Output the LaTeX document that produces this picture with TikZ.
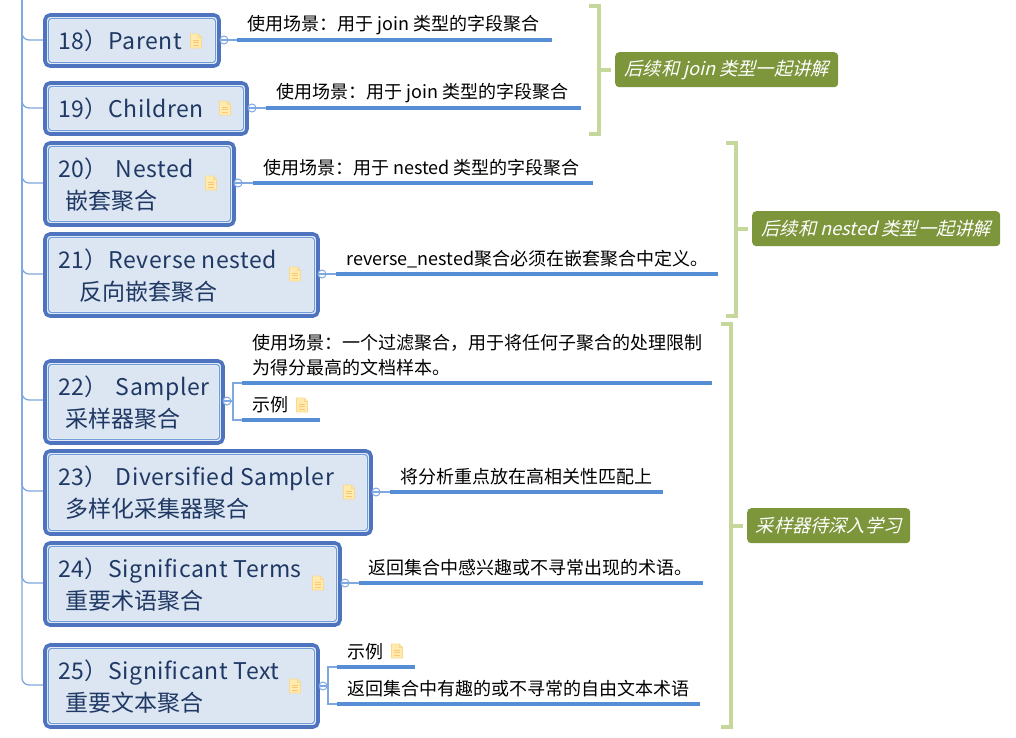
\documentclass[tikz,border=0pt]{standalone}
\usepackage{fontspec}
\setmainfont{Noto Sans CJK SC}
\newfontfamily\slantfont[FakeSlant=0.25]{Noto Sans CJK SC}
\definecolor{topicline}{HTML}{4F74BF}
\definecolor{topicinner}{HTML}{6F9BD8}
\definecolor{topicfill}{HTML}{DCE6F2}
\definecolor{topictext}{HTML}{1F3864}
\definecolor{underl}{HTML}{558ED5}
\definecolor{branchc}{HTML}{7FA8E0}
\definecolor{brk}{HTML}{C5D79B}
\definecolor{tagfill}{HTML}{7D963C}
\definecolor{notefill}{HTML}{FFEBB0}
\definecolor{noteline}{HTML}{FBD98C}
\tikzset{x=1pt,y=-1pt,
 topicbox/.style={draw=topicline,line width=3.6pt,fill=topicfill,rounded corners=5pt,minimum width=#1,inner sep=0pt,outer sep=0pt,anchor=north west},
 topictxt/.style={anchor=west,align=left,inner sep=0pt,text=topictext,font=\fontsize{23}{32}\selectfont},
 inner/.style={draw=white,line width=2.2pt,rounded corners=3pt,postaction={draw=topicinner,line width=1.2pt}},
 lab/.style={anchor=west,align=left,inner sep=0pt,text=black,font=\fontsize{18}{25}\selectfont},
 uline/.style={draw=underl,line width=3.2pt},
 branch/.style={draw=branchc,line width=1.3pt},
 fork/.style={draw=branchc,line width=1.5pt},
 trunk/.style={draw=branchc,line width=1.3pt,rounded corners=7pt},
 knob/.style={circle,draw=branchc,line width=1pt,fill=white,minimum size=8pt,inner sep=0pt},
 bracket/.style={draw=brk,line width=4pt},
 tag/.style={fill=tagfill,rounded corners=4pt,inner sep=0pt,text=white,font=\fontsize{18.2}{22}\selectfont\slantfont,anchor=north west},
 notepic/.pic={
  \fill[notefill,draw=noteline,line width=.8pt] (-5.5,-7)--(2,-7)--(5.5,-3.5)--(5.5,7)--(-5.5,7)--cycle;
  \draw[noteline!80!orange,line width=.9pt] (-3,-1)--(3,-1) (-3,1.5)--(3,1.5) (-3,4)--(3,4);
  \draw[noteline,line width=.7pt] (2,-7)--(2,-3.5)--(5.5,-3.5);
 }
}
% name, x1, y1, x2, y2, text
\newcommand{\topicnode}[6]{%
 \node[topicbox=#4pt-#2pt,minimum height=#5pt-#3pt] (#1) at (#2,#3) {};
 \draw[inner] ([xshift=3.5pt,yshift=-3.5pt]#1.north west) rectangle ([xshift=-3.5pt,yshift=3.5pt]#1.south east);
 \node[topictxt] (#1txt) at (58,{(#3+#5)/2+0.5}) {#6};
}
\newcommand{\spaced}[1]{\addfontfeature{LetterSpace=2.5}#1}
\begin{document}
\begin{tikzpicture}
\useasboundingbox (0,0) rectangle (1016,737);
\fill[white] (0,0) rectangle (1016,737);
\coordinate (trunktop) at (22,0);
% trunk
\foreach \t/\y in {t18/40,t19/108,t20/183,t21/274,t22/400,t23/491,t24/583,t25/685}
 \coordinate (\t in) at (44,\y);
\foreach \t in {t18,t19,t20,t21,t22,t23,t24,t25}
 \draw[trunk] (trunktop) |- (\t in);
% topics
\topicnode{t18}{45}{15}{219}{66}{\spaced{18）Parent}}
\topicnode{t19}{45}{83}{247}{134}{\spaced{19）Children}}
\topicnode{t20}{45}{143}{234}{225}{\spaced{20）\hspace*{8pt}Nested}\\\hspace*{7.5pt}嵌套聚合}
\topicnode{t21}{45}{234}{318}{316}{\spaced{21）Reverse nested}\\\hspace*{21.5pt}反向嵌套聚合}
\topicnode{t22}{45}{361}{223}{443}{\spaced{22）\hspace*{8pt}Sampler}\\\hspace*{7.5pt}采样器聚合}
\topicnode{t23}{45}{451}{371}{534}{\spaced{23）\hspace*{8pt}Diversified Sampler}\\\hspace*{7.5pt}多样化采集器聚合}
\topicnode{t24}{45}{543}{340}{625}{\spaced{24）Significant Terms}\\\hspace*{7.5pt}重要术语聚合}
\topicnode{t25}{45}{645}{318}{727}{\spaced{25）Significant Text}\\\hspace*{7.5pt}重要文本聚合}
% knobs
\node[knob] (k18) at (224,40) {};
\node[knob] (k19) at (252,108) {};
\node[knob] (k20) at (238,183) {};
\node[knob] (k21) at (322,274) {};
\node[knob] (k22) at (227,401) {};
\node[knob] (k23) at (376,492) {};
\node[knob] (k24) at (345,583) {};
\node[knob] (k25) at (323,686) {};
% underline ends
\coordinate (a18) at (237,40);  \coordinate (b18) at (552,40);
\coordinate (a19) at (266,108); \coordinate (b19) at (581,108);
\coordinate (a20) at (253,183); \coordinate (b20) at (593,183);
\coordinate (a21) at (336,274); \coordinate (b21) at (718,274);
\coordinate (a22) at (242,383); \coordinate (b22) at (712,383);
\coordinate (a22e) at (242,420); \coordinate (b22e) at (320,420);
\coordinate (a23) at (390,492); \coordinate (b23) at (663,492);
\coordinate (a24) at (359,583); \coordinate (b24) at (703,583);
\coordinate (a25) at (337,667); \coordinate (b25) at (415,667);
\coordinate (a25e) at (337,704); \coordinate (b25e) at (700,704);
\coordinate (f22) at (233,401); \coordinate (f25) at (328,686);
\foreach \n in {18,19,20,21,23,24}{
 \draw[branch] (k\n.west) -- (a\n);
 \draw[uline] (a\n) -- (b\n);
}
\draw[fork] (k22.west) -- (f22);
\draw[fork] (a22) -| (f22) |- (a22e);
\draw[uline] (a22) -- (b22);
\draw[uline] (a22e) -- (b22e);
\draw[fork] (k25.west) -- (f25);
\draw[fork] (a25) -| (f25) |- (a25e);
\draw[uline] (a25) -- (b25);
\draw[uline] (a25e) -- (b25e);
% labels
\node[lab] (l18) at (247,25) {使用场景：用于 join 类型的字段聚合};
\node[lab] (l19) at (276,93) {使用场景：用于 join 类型的字段聚合};
\node[lab] (l20) at (263,168) {使用场景：用于 nested 类型的字段聚合};
\node[lab] (l21) at (346,259) {reverse\_nested聚合必须在嵌套聚合中定义。};
\node[lab] (l22) at (252,355) {使用场景：一个过滤聚合，用于将任何子聚合的处理限制\\为得分最高的文档样本。};
\node[lab] (l22e) at (252,405) {示例};
\node[lab] (l23) at (400,477) {将分析重点放在高相关性匹配上};
\node[lab] (l24) at (368,568) {返回集合中感兴趣或不寻常出现的术语。};
\node[lab] (l25) at (347,652) {示例};
\node[lab] (l25e) at (347,689) {返回集合中有趣的或不寻常的自由文本术语};
% note icons
\pic at (196,41) {notepic};
\pic at (225,108) {notepic};
\pic at (211,183) {notepic};
\pic at (295,274) {notepic};
\pic at (302,405) {notepic};
\pic at (349,492) {notepic};
\pic at (318,583) {notepic};
\pic at (295,686) {notepic};
\pic at (397,651) {notepic};
% tags
\node[tag,minimum width=223pt,minimum height=35pt] (g1) at (615,52) {后续和 join 类型一起讲解};
\node[tag,minimum width=248pt,minimum height=35pt] (g2) at (752,211) {后续和 nested 类型一起讲解};
\node[tag,minimum width=163pt,minimum height=35pt] (g3) at (747,508) {采样器待深入学习};
% brackets
\coordinate (s1a) at (589,6);   \coordinate (s1b) at (599,6);
\coordinate (s1c) at (599,134); \coordinate (s1d) at (589,134);
\coordinate (s2a) at (726,143); \coordinate (s2b) at (736,143);
\coordinate (s2c) at (736,316); \coordinate (s2d) at (726,316);
\coordinate (s3a) at (721,324); \coordinate (s3b) at (731,324);
\coordinate (s3c) at (731,727); \coordinate (s3d) at (721,727);
\draw[bracket] (s1a) -- (s1b) -- (s1c) -- (s1d);
\draw[bracket] (s2a) -- (s2b) -- (s2c) -- (s2d);
\draw[bracket] (s3a) -- (s3b) -- (s3c) -- (s3d);
\draw[bracket] (s1b |- g1.west) -- ([xshift=-4pt]g1.west);
\draw[bracket] (s2b |- g2.west) -- ([xshift=-4pt]g2.west);
\draw[bracket] (s3b |- g3.west) -- ([xshift=-4pt]g3.west);
\end{tikzpicture}
\end{document}
